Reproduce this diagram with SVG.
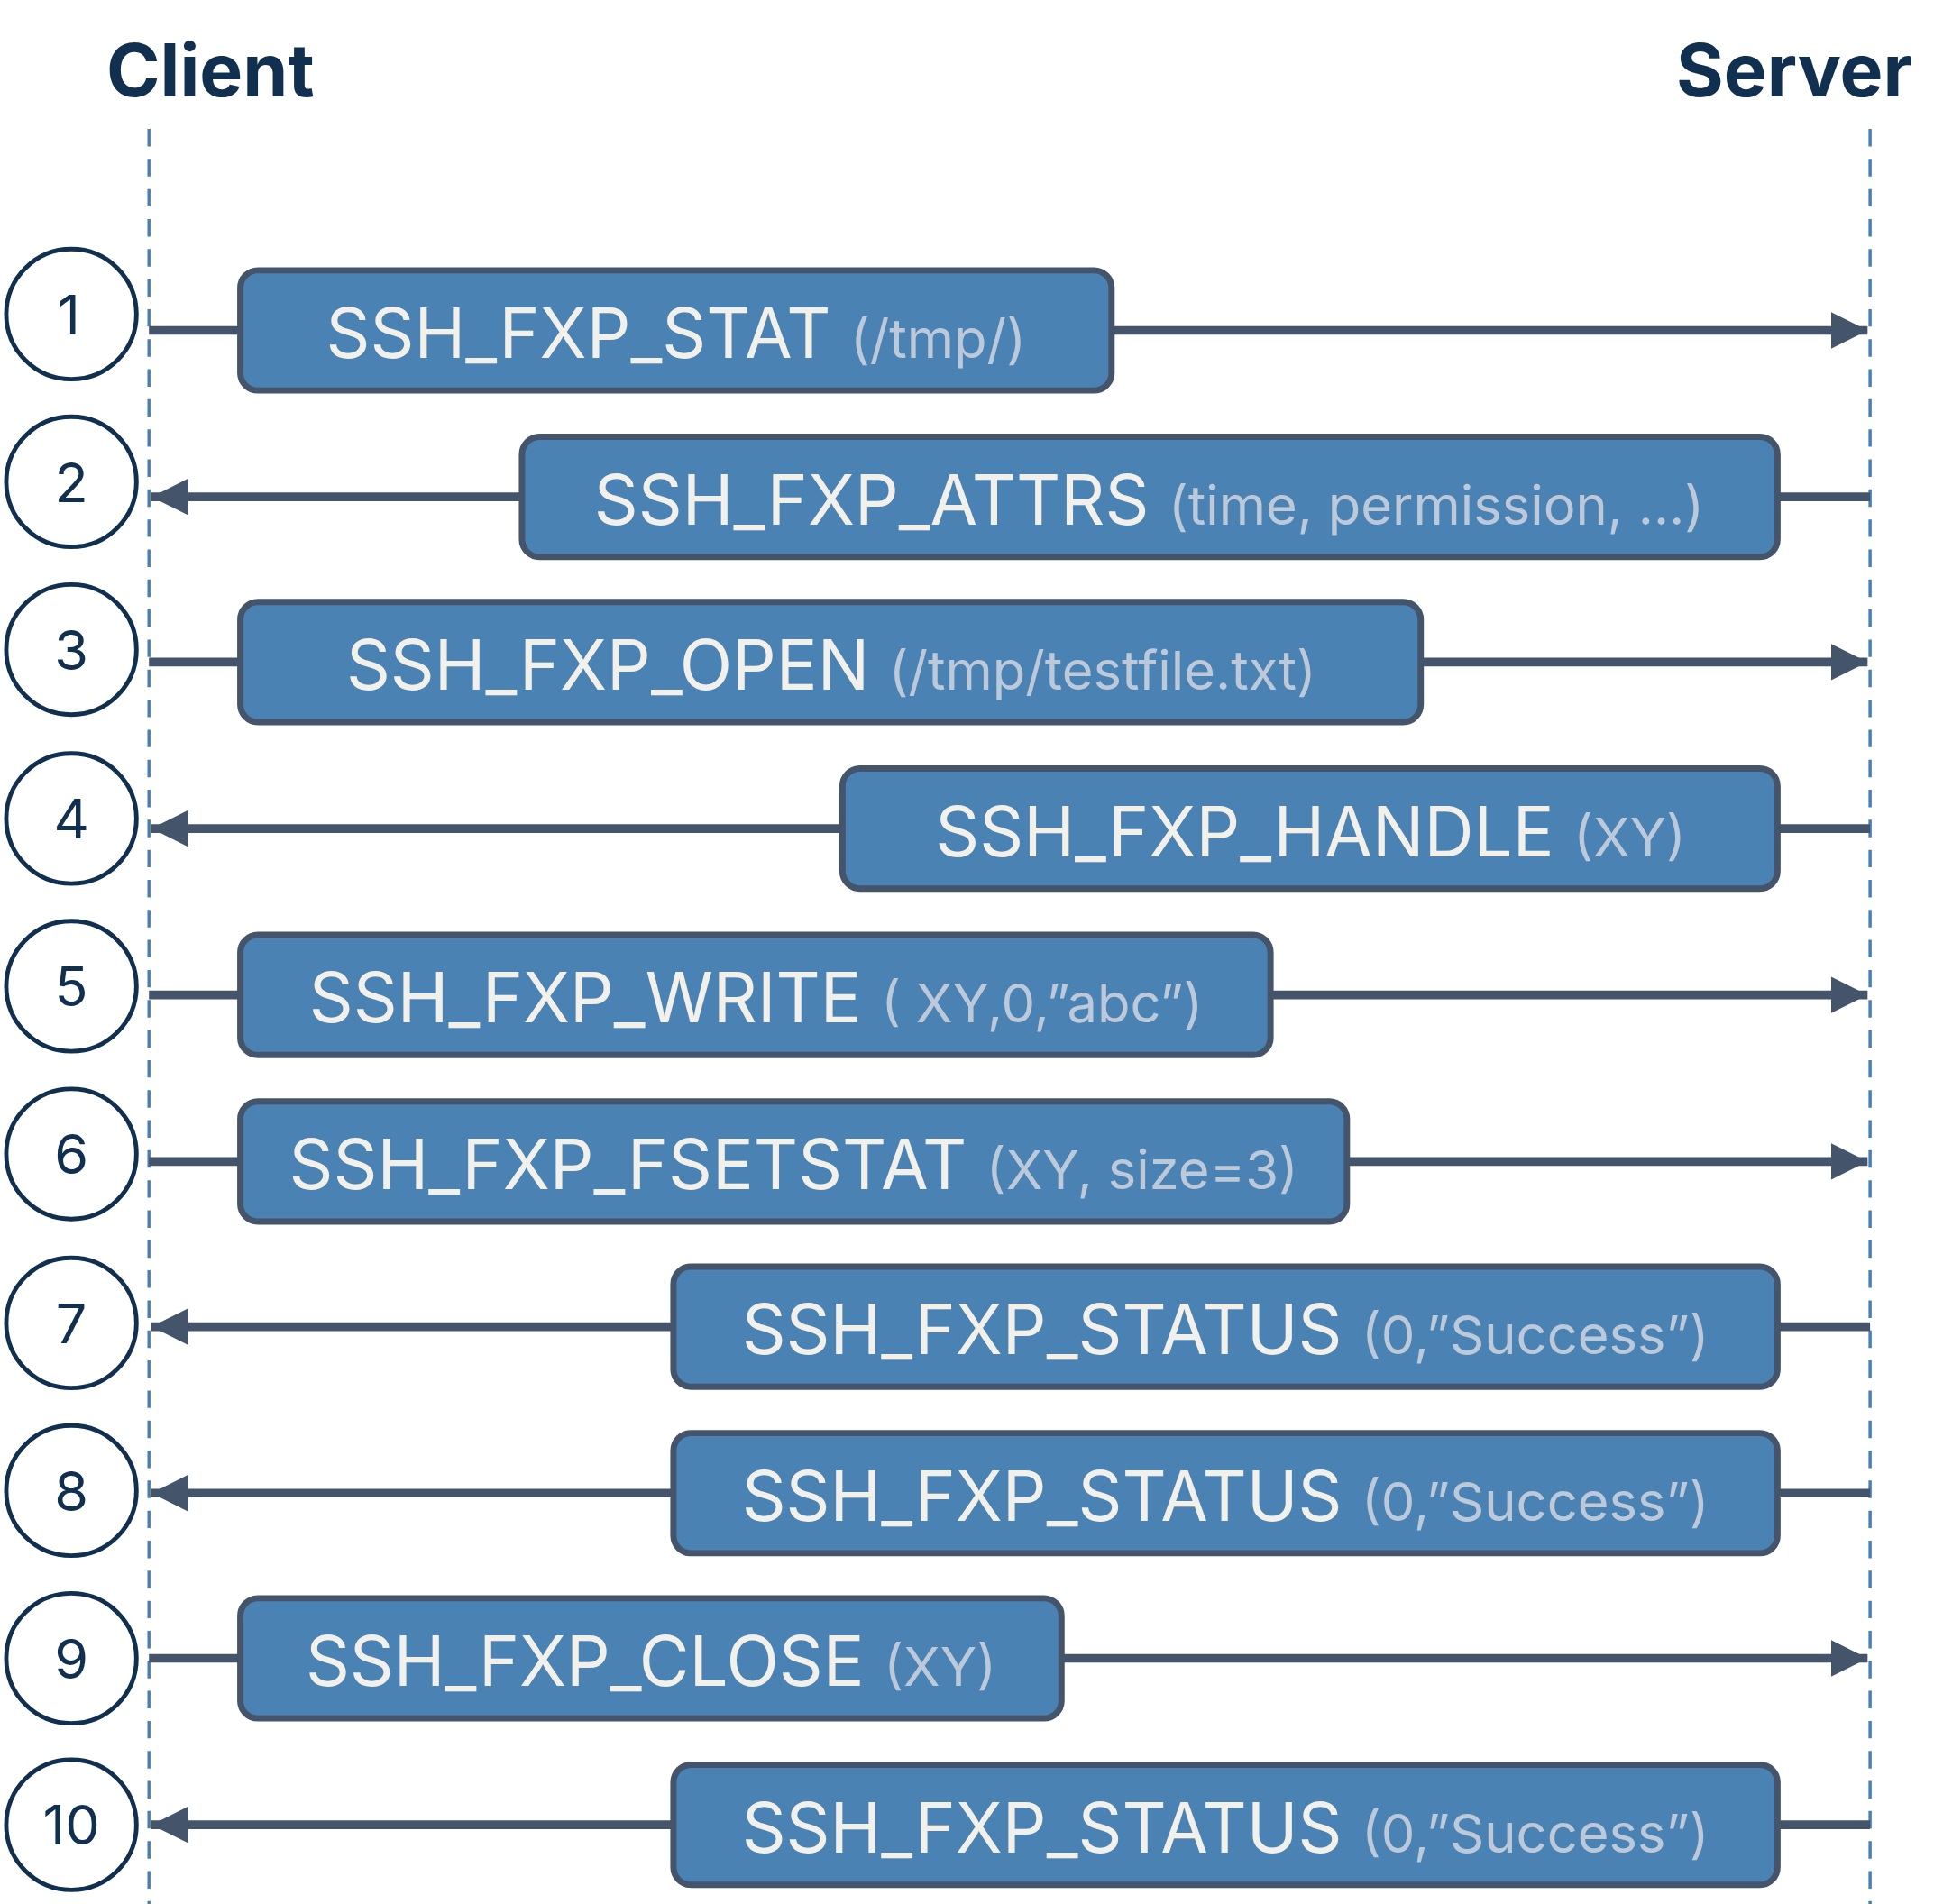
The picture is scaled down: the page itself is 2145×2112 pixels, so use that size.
<svg xmlns="http://www.w3.org/2000/svg" width="2145" height="2112" viewBox="0 0 2145 2112">
<style>
.life{stroke:#4a7fb5;stroke-width:2.5;stroke-dasharray:14 10;fill:none}
.hdr{font-family:Inter,"Noto Sans",sans-serif;font-weight:700;font-size:58px;fill:#11304f}
.num circle{fill:#fff;stroke:#11304f;stroke-width:3.5}
.num text{font-family:Inter,"Noto Sans",sans-serif;font-size:44px;fill:#11304f;text-anchor:middle}
.box rect{fill:#4a82b4;stroke:#44546a;stroke-width:5}
.box text{font-family:Inter,"Noto Sans",sans-serif;font-size:55px;fill:#f2f0ea;text-anchor:middle}
.p{font-size:43px;fill:#bcc9da}
.conn line{stroke:#44546a;stroke-width:7}
</style>
<defs>
<marker id="ah" viewBox="0 0 10 10" refX="10" refY="5" markerWidth="4.2" markerHeight="4.2" orient="auto-start-reverse" markerUnits="strokeWidth">
<path d="M0,0 L10,5 L0,10 z" fill="#44546a"/>
</marker>
</defs>
<rect width="2145" height="2112" fill="#fff"/>
<g transform="scale(1.3883)">
<g id="lifelines">
<line class="life" x1="119" y1="103" x2="119" y2="1540"/>
<line class="life" x1="1494" y1="103" x2="1494" y2="1540"/>
<text class="hdr" x="85" y="77">Client</text>
<text class="hdr" x="1528" y="77" text-anchor="end">Server</text>
</g>
<g id="connectors" class="conn">
<line x1="119" y1="264" x2="1492" y2="264" marker-end="url(#ah)"/>
<line x1="1494" y1="397" x2="121" y2="397" marker-end="url(#ah)"/>
<line x1="119" y1="529" x2="1492" y2="529" marker-end="url(#ah)"/>
<line x1="1494" y1="662" x2="121" y2="662" marker-end="url(#ah)"/>
<line x1="119" y1="795" x2="1492" y2="795" marker-end="url(#ah)"/>
<line x1="119" y1="928" x2="1492" y2="928" marker-end="url(#ah)"/>
<line x1="1494" y1="1060" x2="121" y2="1060" marker-end="url(#ah)"/>
<line x1="1494" y1="1193" x2="121" y2="1193" marker-end="url(#ah)"/>
<line x1="119" y1="1325" x2="1492" y2="1325" marker-end="url(#ah)"/>
<line x1="1494" y1="1458" x2="121" y2="1458" marker-end="url(#ah)"/>
</g>
<g id="n1" class="num"><circle cx="57" cy="251" r="52"/><text x="55" y="267">1</text></g>
<g id="n2" class="num"><circle cx="57" cy="385" r="52"/><text x="57" y="401">2</text></g>
<g id="n3" class="num"><circle cx="57" cy="519" r="52"/><text x="57" y="535">3</text></g>
<g id="n4" class="num"><circle cx="57" cy="654" r="52"/><text x="57" y="670">4</text></g>
<g id="n5" class="num"><circle cx="57" cy="788" r="52"/><text x="57" y="804">5</text></g>
<g id="n6" class="num"><circle cx="57" cy="922" r="52"/><text x="57" y="938">6</text></g>
<g id="n7" class="num"><circle cx="57" cy="1057" r="52"/><text x="57" y="1073">7</text></g>
<g id="n8" class="num"><circle cx="57" cy="1191" r="52"/><text x="57" y="1207">8</text></g>
<g id="n9" class="num"><circle cx="57" cy="1325" r="52"/><text x="57" y="1341">9</text></g>
<g id="n10" class="num"><circle cx="57" cy="1458" r="52"/><text x="57" y="1474">10</text></g>
<g id="b1" class="box"><rect x="192" y="216" width="696" height="96" rx="14"/><text x="540" y="286">SSH_FXP_STAT  <tspan class="p">(/tmp/)</tspan></text></g>
<g id="b2" class="box"><rect x="417" y="349" width="1003" height="96" rx="14"/><text x="918" y="419">SSH_FXP_ATTRS <tspan class="p">(time, permission, …)</tspan></text></g>
<g id="b3" class="box"><rect x="192" y="481" width="943" height="96" rx="14"/><text x="664" y="551">SSH_FXP_OPEN <tspan class="p">(/tmp/testfile.txt)</tspan></text></g>
<g id="b4" class="box"><rect x="673" y="614" width="747" height="96" rx="14"/><text x="1047" y="684">SSH_FXP_HANDLE <tspan class="p">(XY)</tspan></text></g>
<g id="b5" class="box"><rect x="192" y="747" width="823" height="96" rx="14"/><text x="604" y="817">SSH_FXP_WRITE <tspan class="p">( XY,0,”abc”)</tspan></text></g>
<g id="b6" class="box"><rect x="192" y="880" width="884" height="96" rx="14"/><text x="634" y="950">SSH_FXP_FSETSTAT <tspan class="p">(XY, size=3)</tspan></text></g>
<g id="b7" class="box"><rect x="538" y="1012" width="882" height="96" rx="14"/><text x="979" y="1082">SSH_FXP_STATUS <tspan class="p">(0,”Success”)</tspan></text></g>
<g id="b8" class="box"><rect x="538" y="1145" width="882" height="96" rx="14"/><text x="979" y="1215">SSH_FXP_STATUS <tspan class="p">(0,”Success”)</tspan></text></g>
<g id="b9" class="box"><rect x="192" y="1277" width="656" height="96" rx="14"/><text x="520" y="1347">SSH_FXP_CLOSE <tspan class="p">(XY)</tspan></text></g>
<g id="b10" class="box"><rect x="538" y="1410" width="882" height="96" rx="14"/><text x="979" y="1480">SSH_FXP_STATUS <tspan class="p">(0,”Success”)</tspan></text></g>
</g>
</svg>
